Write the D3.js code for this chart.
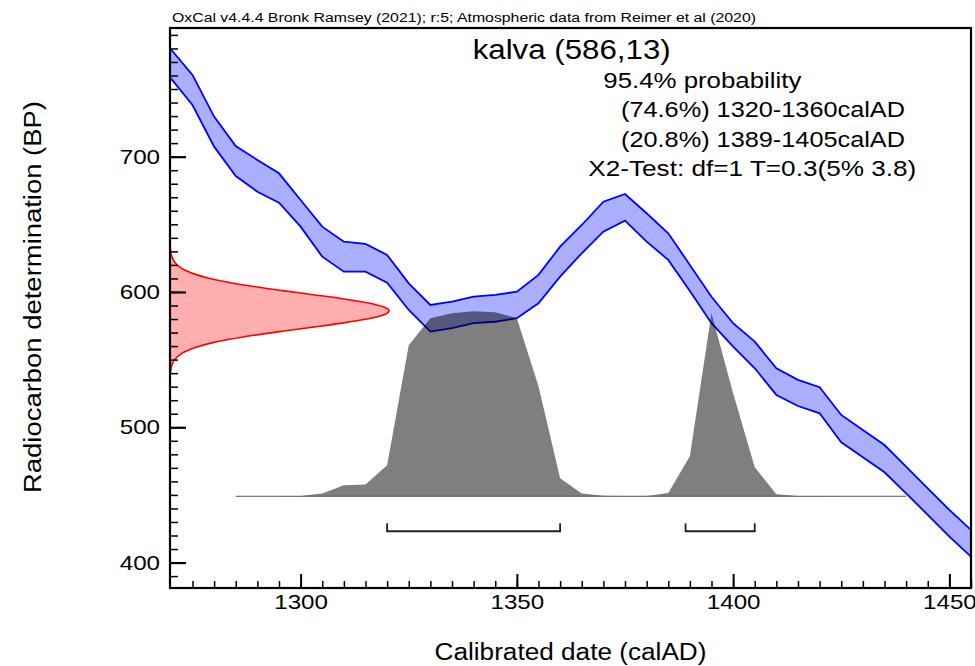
<!DOCTYPE html>
<html>
<head>
<meta charset="utf-8">
<script src="https://cdn.jsdelivr.net/npm/d3@7"></script>
<style>
  body { margin: 0; background: #fff; }
  text { font-family: "Liberation Sans", Arial, sans-serif; fill: #000; }
</style>
</head>
<body>
<svg id="chart" width="975" height="666"></svg>
<script>
const svg = d3.select("#chart");

// calibration curve (IntCal20), 1-sigma band, BP
const calYears = [1270, 1275, 1280, 1285, 1290, 1295, 1300, 1305, 1310, 1315, 1320, 1325,
  1330, 1335, 1340, 1345, 1350, 1355, 1360, 1365, 1370, 1375, 1380, 1385, 1390, 1395,
  1400, 1405, 1410, 1415, 1420, 1425, 1430, 1435, 1440, 1445, 1450, 1455];
const calUpper = [779.4, 760.4, 729.6, 707.9, 697.6, 687.7, 668, 648.3, 637.2, 635.5, 627.3, 606.4,
  590.4, 592.8, 596.5, 597.8, 600.2, 612.6, 633.5, 649.5, 666.7, 672.4, 658.2, 643.4, 620, 596.5,
  576.9, 563.3, 543.6, 535.0, 529.6, 509.1, 498.0, 486.9, 470.9, 454.9, 438.9, 424.1];
const calLower = [757.9, 738.2, 707.4, 685.7, 674.1, 666, 648.3, 626.1, 615, 615, 606.9, 586.7,
  570.7, 573.2, 576.9, 578.0, 580.6, 591.6, 611.3, 628.6, 644.6, 652.7, 637.2, 623.7, 600.7, 576.9,
  559.6, 543.6, 523.9, 515.7, 510.3, 488.9, 477.8, 466.7, 451.2, 435.2, 419.1, 404.4];

// radiocarbon measurement 586 +/- 13 BP (relative density)
const rcBP = [538, 541, 544, 547, 550, 553, 556, 559, 562, 565, 568, 571, 574, 577, 580, 583, 586,
  589, 592, 595, 598, 601, 604, 607, 610, 613, 616, 619, 622, 625, 628, 631, 634];
const rcDens = [0.001, 0.0025, 0.0054, 0.0111, 0.0216, 0.0399, 0.0698, 0.1157, 0.1819, 0.2713,
  0.3834, 0.5139, 0.6531, 0.7869, 0.899, 0.9737, 1, 0.9737, 0.899, 0.7869, 0.6531, 0.5139, 0.3834,
  0.2713, 0.1819, 0.1157, 0.0698, 0.0399, 0.0216, 0.0111, 0.0054, 0.0025, 0.001];

// calibrated probability (relative)
const probYears = [1285, 1290, 1295, 1300, 1305, 1310, 1315, 1320, 1325, 1330, 1335, 1340, 1345,
  1350, 1355, 1360, 1365, 1370, 1375, 1380, 1385, 1390, 1395, 1400, 1405, 1410, 1415, 1420, 1425,
  1430, 1435, 1440];
const probVals = [0, 0, 0.0005, 0.002, 0.015, 0.059, 0.063, 0.168, 0.816, 0.962, 0.989, 1.0, 0.995,
  0.962, 0.595, 0.097, 0.015, 0.003, 0.001, 0.002, 0.018, 0.216, 0.989, 0.557, 0.157, 0.011, 0.002,
  0.001, 0, 0, 0, 0];

// 95.4% ranges
const ranges = [[1320, 1360], [1389, 1405]];

const xMajor = [1300, 1350, 1400, 1450];
const yMajor = [400, 500, 600, 700];

const pLeft = 170, pRight = 971, pTop = 28, pBottom = 588;
const x = d3.scaleLinear().domain([1269.8, 1455]).range([pLeft, pRight]);
const y = d3.scaleLinear().domain([381.2, 795.1]).range([pBottom, pTop]);

const baseY = y(449);
const pScale = d3.scaleLinear().domain([0, 1]).range([baseY, baseY - 185]);
const rScale = d3.scaleLinear().domain([0, 1]).range([pLeft, 389]);

const stretch = 1.15;
function widen(sel, w) {
  sel.each(function() {
    const len = w || this.getComputedTextLength() * stretch;
    d3.select(this).attr("textLength", len).attr("lengthAdjust", "spacingAndGlyphs");
  });
}

svg.append("defs").append("clipPath").attr("id", "plot")
  .append("rect").attr("x", pLeft).attr("y", pTop)
  .attr("width", pRight - pLeft).attr("height", pBottom - pTop);

const g = svg.append("g").attr("clip-path", "url(#plot)");

// measurement on the y axis
const rcArea = d3.area()
  .y((d, i) => y(rcBP[i]))
  .x0(pLeft)
  .x1(d => rScale(d))
  .curve(d3.curveMonotoneY);
g.append("path").datum(rcDens)
  .attr("d", rcArea)
  .attr("fill", "rgb(255,175,175)");
g.append("path").datum(rcDens)
  .attr("d", rcArea.lineX1())
  .attr("fill", "none")
  .attr("stroke", "#f00")
  .attr("stroke-width", 1.6);

// calibration band
const band = d3.area()
  .x(d => x(d))
  .y0((d, i) => y(calLower[i]))
  .y1((d, i) => y(calUpper[i]));
g.append("path").datum(calYears)
  .attr("d", band)
  .attr("fill", "rgb(170,175,255)");
[calUpper, calLower].forEach(vals => {
  g.append("path").datum(calYears)
    .attr("d", d3.line().x(d => x(d)).y((d, i) => y(vals[i])))
    .attr("fill", "none")
    .attr("stroke", "#00f")
    .attr("stroke-width", 1.8);
});

// calibrated distribution
g.append("path").datum(probYears)
  .attr("d", d3.area().x(d => x(d)).y0(baseY).y1((d, i) => pScale(probVals[i])))
  .attr("fill", "rgba(0,0,0,0.5)");
g.append("line")
  .attr("x1", x(probYears[0])).attr("x2", x(probYears[probYears.length - 1]))
  .attr("y1", baseY).attr("y2", baseY)
  .attr("stroke", "#555").attr("stroke-width", 1);

// range brackets
const by = baseY + 35;
ranges.forEach(r => {
  svg.append("path")
    .attr("d", `M${x(r[0])},${by - 8}V${by}H${x(r[1])}V${by - 8}`)
    .attr("fill", "none")
    .attr("stroke", "#222")
    .attr("stroke-width", 1.8);
});

// axes
const yMinor = svg.append("g").attr("transform", `translate(${pLeft},0)`)
  .call(d3.axisLeft(y).tickValues(d3.range(390, 800, 10)).tickSize(-8).tickFormat(""));
const yAx = svg.append("g").attr("transform", `translate(${pLeft},0)`)
  .call(d3.axisLeft(y).tickValues(yMajor).tickSizeInner(-16).tickSizeOuter(0).tickPadding(10));
const xMinor = svg.append("g").attr("transform", `translate(0,${pBottom})`)
  .call(d3.axisBottom(x).tickValues(d3.range(1275, 1456, 5)).tickSize(-7).tickFormat(""));
const xAx = svg.append("g").attr("transform", `translate(0,${pBottom})`)
  .call(d3.axisBottom(x).tickValues(xMajor).tickSizeInner(-14).tickSizeOuter(0).tickPadding(6)
    .tickFormat(d3.format("d")));

[yMinor, yAx, xMinor, xAx].forEach(a => {
  a.select(".domain").remove();
  a.selectAll(".tick line").attr("stroke", "#000").attr("stroke-width", 1.5);
});
yAx.selectAll(".tick line").attr("stroke-width", 2.2);
xAx.selectAll(".tick line").attr("stroke-width", 2);
[yAx, xAx].forEach(a => {
  a.selectAll("text").attr("font-size", 21).attr("font-family", null).attr("fill", "#000");
  widen(a.selectAll("text"));
});

svg.append("rect")
  .attr("x", pLeft).attr("y", pTop)
  .attr("width", pRight - pLeft).attr("height", pBottom - pTop)
  .attr("fill", "none").attr("stroke", "#000").attr("stroke-width", 2.2);

// texts
svg.append("text").attr("x", 172).attr("y", 22).attr("font-size", 12.5)
  .text("OxCal v4.4.4 Bronk Ramsey (2021); r:5; Atmospheric data from Reimer et al (2020)")
  .call(widen, 584);

const info = [
  { t: "kalva (586,13)", x: 472.7, y: 59.3, s: 27, w: 198 },
  { t: "95.4% probability", x: 603.3, y: 87.5, s: 22, w: 198 },
  { t: "(74.6%) 1320-1360calAD", x: 621, y: 117.3, s: 22, w: 284 },
  { t: "(20.8%) 1389-1405calAD", x: 621, y: 146.7, s: 22, w: 284 },
  { t: "X2-Test: df=1 T=0.3(5% 3.8)", x: 588.3, y: 176, s: 22, w: 328 }
];
info.forEach(d => {
  svg.append("text").attr("x", d.x).attr("y", d.y).attr("font-size", d.s)
    .text(d.t).call(widen, d.w);
});

svg.append("text")
  .attr("x", (pLeft + pRight) / 2).attr("y", 660)
  .attr("text-anchor", "middle").attr("font-size", 23)
  .text("Calibrated date (calAD)")
  .call(widen, 272);

svg.append("text")
  .attr("transform", "translate(41,297) rotate(-90)")
  .attr("text-anchor", "middle").attr("font-size", 23)
  .text("Radiocarbon determination (BP)")
  .call(widen, 392);
</script>
</body>
</html>
